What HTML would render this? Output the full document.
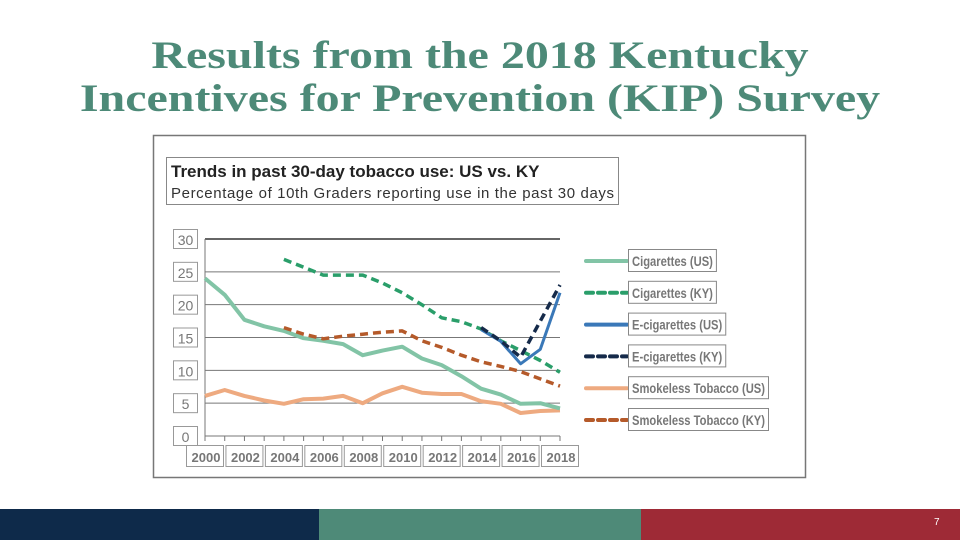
<!DOCTYPE html>
<html><head><meta charset="utf-8"><style>
body{margin:0;width:960px;height:540px;overflow:hidden;background:#fff;position:relative;font-family:"Liberation Sans",sans-serif}
#title{position:absolute;left:0;top:34px;width:960px;text-align:center;font-family:"Liberation Serif",serif;font-weight:bold;font-size:39px;line-height:43px;color:#4d8a78;transform:scaleX(1.23);transform-origin:480px 0}
.bar{position:absolute;top:509px;height:31px}
</style></head><body>
<div id="title">Results from the 2018 Kentucky<br>Incentives for Prevention (KIP) Survey</div>
<svg id="chart" width="960" height="540" style="position:absolute;left:0;top:0">
<rect x="153.5" y="135.5" width="652" height="342" fill="#fff" stroke="#777" stroke-width="1.5"/>
<rect x="166.5" y="157.5" width="452" height="47" fill="#fff" stroke="#888"/>
<text x="171" y="177" font-size="17" font-weight="bold" fill="#222">Trends in past 30-day tobacco use: US vs. KY</text>
<text x="171" y="198" font-size="15" fill="#333" textLength="443">Percentage of 10th Graders reporting use in the past 30 days</text>
<g id="grid"></g><g id="series"></g><g id="legend"></g>
</svg>
<div class="bar" style="left:0;width:319px;background:#0e2a4a"></div>
<div class="bar" style="left:319px;width:322px;background:#4e8a78"></div>
<div class="bar" style="left:641px;width:319px;background:#9e2a36"></div>
<div style="position:absolute;left:934px;top:517px;color:#fff;font-size:10px">7</div>
<script>
const years=[2000,2001,2002,2003,2004,2005,2006,2007,2008,2009,2010,2011,2012,2013,2014,2015,2016,2017,2018];
const yTicks=[0,5,10,15,20,25,30];
const xTickLabels=[2000,2002,2004,2006,2008,2010,2012,2014,2016,2018];
const cigUS=[24,21.5,17.7,16.7,16,14.9,14.5,14,12.3,13,13.6,11.8,10.8,9.1,7.2,6.3,4.9,5,4.2];
const cigKY=[null,null,null,null,26.9,25.7,24.5,24.5,24.5,23.3,21.8,20,18,17.4,16.3,14.5,13,11.5,9.7];
const ecigUS=[null,null,null,null,null,null,null,null,null,null,null,null,null,null,16.2,14.4,11,13.2,21.8];
const ecigKY=[null,null,null,null,null,null,null,null,null,null,null,null,null,null,16.5,14.5,12,17.5,23];
const smkUS=[6.1,7,6.1,5.4,4.9,5.6,5.7,6.1,5,6.5,7.5,6.6,6.4,6.4,5.3,4.9,3.5,3.8,3.9];
const smkKY=[null,null,null,null,16.5,15.5,14.8,15.2,15.5,15.8,16,14.5,13.5,12.3,11.3,10.6,9.8,8.7,7.6];
const NS="http://www.w3.org/2000/svg";
const X=y=>205+(y-2000)*(560-205)/18;
const Y=v=>436-v*(436-239)/30;
function mk(t,a,p){const e=document.createElementNS(NS,t);for(const k in a)e.setAttribute(k,a[k]);p.appendChild(e);return e;}
const g=document.getElementById('grid');
yTicks.forEach(v=>{
  const l=mk('line',{x1:205,x2:560,y1:Y(v),y2:Y(v),stroke:v==30?'#666':'#777','stroke-width':v==30?2:1},g);
  
  
  const r=mk('rect',{x:173.5,y:Y(v)-9.5,width:24,height:19,fill:'#fff',stroke:'#999'},g);
  
  
  const t=mk('text',{x:185.5,y:Y(v)+6,'text-anchor':'middle','font-size':14,fill:'#777'},g);
  t.textContent=v;
  
  
});
mk('line',{x1:205,x2:205,y1:239,y2:440,stroke:'#777'},g);
years.forEach(y=>{const l=mk('line',{x1:X(y),x2:X(y),y1:436,y2:441,stroke:'#777'},g);
  
  });
xTickLabels.forEach(y=>{
  const r=mk('rect',{x:X(y)-18.5,y:445.5,width:37,height:21,fill:'#fff',stroke:'#999'},g);
  
  
  const t=mk('text',{x:X(y)+1,y:462,'text-anchor':'middle','font-size':13,'font-weight':'bold',fill:'#777'},g);
  t.textContent=y;
  
  
});
const series=[
 {n:'smokeless-us',d:smkUS,c:'#eeaa80',dash:null,label:'Smokeless Tobacco (US)',w:4},
 {n:'cigarettes-us',d:cigUS,c:'#82c4a6',dash:null,label:'Cigarettes (US)',w:4},
 {n:'smokeless-ky',d:smkKY,c:'#b55a2a',dash:'8 5',label:'Smokeless Tobacco (KY)',w:3.5},
 {n:'cigarettes-ky',d:cigKY,c:'#2a9e6a',dash:'8 5',label:'Cigarettes (KY)',w:3.5},
 {n:'ecigarettes-us',d:ecigUS,c:'#3a78b8',dash:null,label:'E-cigarettes (US)',w:3},
 {n:'ecigarettes-ky',d:ecigKY,c:'#152a4a',dash:'8 5',label:'E-cigarettes (KY)',w:3.5}];
const sg=document.getElementById('series');
series.forEach(s=>{
  let pts=[];s.d.forEach((v,i)=>{if(v!=null)pts.push(X(years[i]).toFixed(1)+','+Y(v).toFixed(1));});
  const a={points:pts.join(' '),fill:'none',stroke:s.c,'stroke-width':s.w,'stroke-linejoin':'round'};
  if(s.dash)a['stroke-dasharray']=s.dash;
  const p=mk('polyline',a,sg);
  
  
});
const order=['cigarettes-us','cigarettes-ky','ecigarettes-us','ecigarettes-ky','smokeless-us','smokeless-ky'];
const lg=document.getElementById('legend');
order.forEach((n,i)=>{
  const s=series.find(q=>q.n==n);const yy=261+i*31.8;
  const a={x1:586,x2:627,y1:yy,y2:yy,stroke:s.c,'stroke-width':4,'stroke-linecap':'round'};
  if(s.dash)a['stroke-dasharray']='7 5';
  const l=mk('line',a,lg);
  
  
  const t=mk('text',{x:632,y:yy+5,'font-size':14,'font-weight':'bold',fill:'#777'},lg);
  t.textContent=s.label;
  const w=t.getComputedTextLength()*0.8;
  t.setAttribute('textLength',w);
  t.setAttribute('lengthAdjust','spacingAndGlyphs');
  const r=mk('rect',{x:628.5,y:yy-11.5,width:w+7,height:22,fill:'none',stroke:'#888'},lg);
  
  
  
  
});
</script>
</body></html>
